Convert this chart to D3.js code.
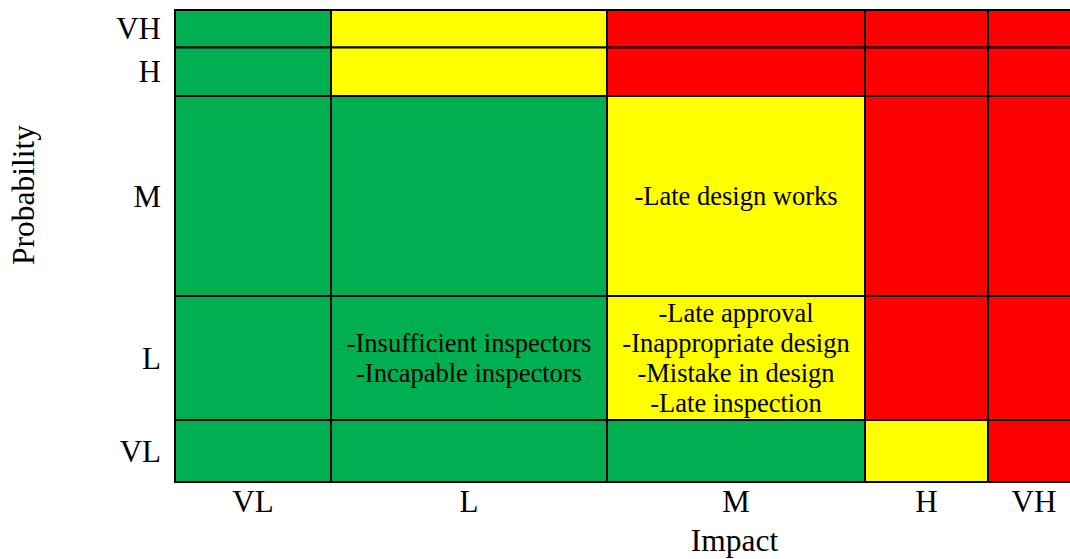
<!DOCTYPE html>
<html>
<head>
<meta charset="utf-8">
<script src="https://cdn.jsdelivr.net/npm/d3@7"></script>
<style>
  html, body { margin: 0; padding: 0; background: #fff; overflow: hidden; }
  svg { display: block; }
  svg text, svg tspan { font-family: "Liberation Serif", "Times New Roman", Times, serif; fill: #000; }
</style>
</head>
<body>
<svg id="chart" width="1070" height="559" font-family="Liberation Serif, Times New Roman, serif"></svg>
<script>
// ---- data ----
const impactLevels = ["VL", "L", "M", "H", "VH"];
const probabilityLevels = ["VH", "H", "M", "L", "VL"];
const riskClasses = ["Low", "Medium", "High"];
// rows follow probabilityLevels, columns follow impactLevels
const riskMatrix = [
  ["Low", "Medium", "High",   "High",   "High"],
  ["Low", "Medium", "High",   "High",   "High"],
  ["Low", "Low",    "Medium", "High",   "High"],
  ["Low", "Low",    "Medium", "High",   "High"],
  ["Low", "Low",    "Low",    "Medium", "High"]
];
const riskItems = [
  { impact: "M", probability: "M", lines: ["-Late design works"] },
  { impact: "L", probability: "L", lines: ["-Insufficient inspectors", "-Incapable inspectors"] },
  { impact: "M", probability: "L", lines: ["-Late approval", "-Inappropriate design", "-Mistake in design", "-Late inspection"] }
];
const xTitle = "Impact";
const yTitle = "Probability";

// ---- layout ----
const colEdges = [175, 331, 607, 865, 988, 1080];
const rowEdges = [10, 47.5, 96, 296, 420, 482];
const colors = { Low: "#00B050", Medium: "#FFFF00", High: "#FF0000" };
const serif = "'Liberation Serif', 'Times New Roman', Times, serif";

const svg = d3.select("#chart");

const xStart = d3.scaleOrdinal().domain(impactLevels).range(colEdges.slice(0, 5));
const xEnd = d3.scaleOrdinal().domain(impactLevels).range(colEdges.slice(1));
const yStart = d3.scaleOrdinal().domain(probabilityLevels).range(rowEdges.slice(0, 5));
const yEnd = d3.scaleOrdinal().domain(probabilityLevels).range(rowEdges.slice(1));
const color = d3.scaleOrdinal().domain(riskClasses).range(riskClasses.map(c => colors[c]));

const cells = [];
probabilityLevels.forEach((p, i) => {
  impactLevels.forEach((im, j) => {
    cells.push({ impact: im, probability: p, risk: riskMatrix[i][j] });
  });
});

svg.append("g").selectAll("rect")
  .data(cells)
  .join("rect")
  .attr("x", d => xStart(d.impact))
  .attr("y", d => yStart(d.probability))
  .attr("width", d => xEnd(d.impact) - xStart(d.impact))
  .attr("height", d => yEnd(d.probability) - yStart(d.probability))
  .attr("fill", d => color(d.risk))
  .attr("stroke", "#000")
  .attr("stroke-width", 2);

// cell texts
const cellFont = 26.5, lineH = 30;
const tg = svg.append("g");
riskItems.forEach(item => {
  const cx = (xStart(item.impact) + xEnd(item.impact)) / 2;
  const cy = (yStart(item.probability) + yEnd(item.probability)) / 2;
  const n = item.lines.length;
  item.lines.forEach((ln, k) => {
    tg.append("text")
      .attr("x", cx)
      .attr("y", cy + (k - (n - 1) / 2) * lineH + 9)
      .attr("text-anchor", "middle")
      .attr("font-family", serif)
      .attr("font-size", cellFont)
      .text(ln);
  });
});

// y tick labels
svg.append("g").selectAll("text")
  .data(probabilityLevels)
  .join("text")
  .attr("x", 161)
  .attr("y", d => (yStart(d) + yEnd(d)) / 2 + 10.5)
  .attr("text-anchor", "end")
  .attr("font-family", serif)
  .attr("font-size", 31)
  .text(d => d);

// x tick labels
svg.append("g").selectAll("text")
  .data(impactLevels)
  .join("text")
  .attr("x", d => (xStart(d) + xEnd(d)) / 2)
  .attr("y", 512)
  .attr("text-anchor", "middle")
  .attr("font-family", serif)
  .attr("font-size", 31)
  .text(d => d);

// axis titles
svg.append("text")
  .attr("x", 734.5)
  .attr("y", 551)
  .attr("text-anchor", "middle")
  .attr("font-family", serif)
  .attr("font-size", 31.5)
  .text(xTitle);

svg.append("text")
  .attr("transform", "translate(34,195) rotate(-90)")
  .attr("text-anchor", "middle")
  .attr("font-family", serif)
  .attr("font-size", 31.5)
  .text(yTitle);
</script>
</body>
</html>
